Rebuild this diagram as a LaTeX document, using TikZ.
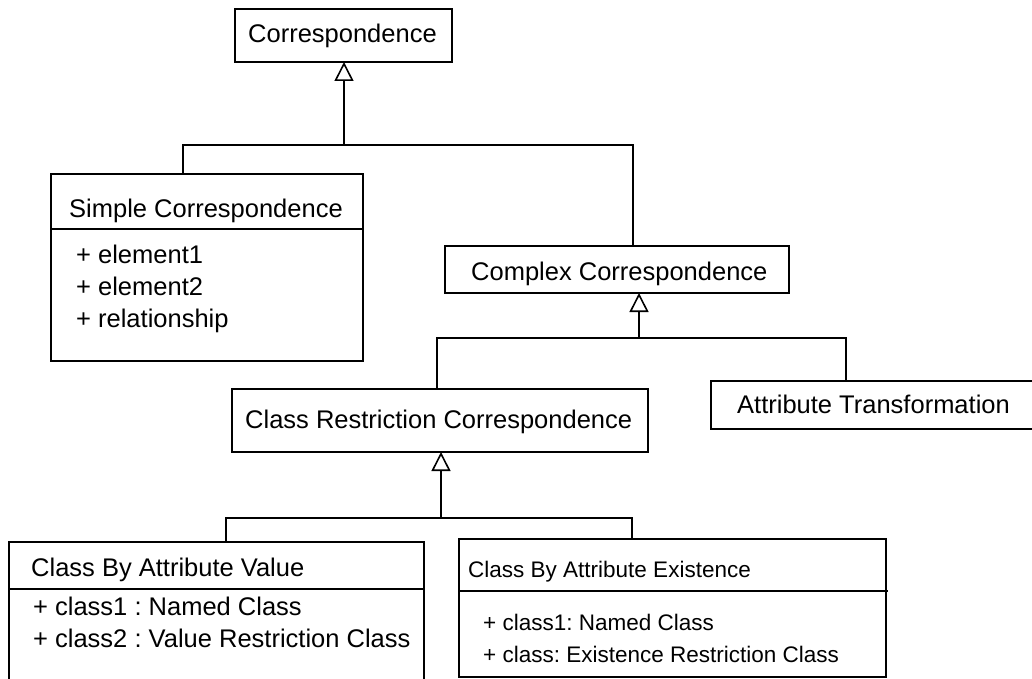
\documentclass[tikz,border=0pt]{standalone}
\usepackage{fontspec}
\setmainfont{Liberation Sans}
\usetikzlibrary{arrows.meta}
\frenchspacing
\begin{document}
\begin{tikzpicture}[x=1pt,y=-1pt,
  box/.style={draw, line width=1.6pt, inner sep=0pt, outer sep=0pt, anchor=north west},
  lbl/.style={anchor=base west, inner sep=0pt, font=\fontsize{25.5}{30}\selectfont},
  lblsmall/.style={anchor=base west, inner sep=0pt, font=\fontsize{22.5}{27}\selectfont},
  conn/.style={line width=1.6pt},
  gen/.style={line width=1.6pt, -{Triangle[open, width=19pt, length=19pt, line width=1.6pt]}}]
\useasboundingbox (0,0) rectangle (1032,679);
% boxes
\node[box, minimum width=217pt, minimum height=53pt] (corr) at (235,9) {};
\node[box, minimum width=312pt, minimum height=187pt] (simple) at (51,174) {};
\node[box, minimum width=344pt, minimum height=47pt] (complex) at (445,246) {};
\node[box, minimum width=416pt, minimum height=63pt] (classres) at (232,389) {};
\node[box, minimum width=334pt, minimum height=48pt] (attrtrans) at (711,381) {};
\node[box, minimum width=415pt, minimum height=148pt] (value) at (9,542) {};
\node[box, minimum width=427pt, minimum height=138pt] (exist) at (459,539) {};
% dividers
\draw[conn] (simple.west |- 0,229) -- (simple.east |- 0,229);
\draw[conn] (value.west |- 0,589) -- (value.east |- 0,589);
\draw[conn] (exist.west |- 0,591) -- ([xshift=2pt]exist.east |- 0,591);
% texts
\node[lbl] (tcorr) at (248,43) {Correspondence};
\node[lbl] (tsimple) at (69,217) {Simple Correspondence};
\node[lbl] (ts1) at (76,263) {+ element1};
\node[lbl] (ts2) at (76,295) {+ element2};
\node[lbl] (ts3) at (76,327) {+ relationship};
\node[lbl] (tcomplex) at (471,280) {Complex Correspondence};
\node[lbl] (tclassres) at (245,428) {Class Restriction Correspondence};
\node[lbl] (tattr) at (737,413) {Attribute Transformation};
\node[lbl] (tvalue) at (31,576) {Class By Attribute Value};
\node[lbl] (tv1) at (33,615) {+ class1 : Named Class};
\node[lbl] (tv2) at (33,647) {+ class2 : Value Restriction Class};
\node[lblsmall] (texist) at (468,577) {Class By Attribute Existence};
\node[lblsmall] (te1) at (483,630) {+ class1: Named Class};
\node[lblsmall] (te2) at (483,662) {+ class: Existence Restriction Class};
% bus 1
\coordinate (b1l) at (183,145);
\coordinate (b1m) at (344,145);
\coordinate (b1r) at (633,145);
\draw[conn] (simple.north -| b1l) -- (b1l) -- (b1r) -- (complex.north -| b1r);
\draw[gen] (b1m) -- (corr.south -| b1m);
% bus 2
\coordinate (b2l) at (437,338);
\coordinate (b2m) at (639,338);
\coordinate (b2r) at (846,338);
\draw[conn] (classres.north -| b2l) -- (b2l) -- (b2r) -- (attrtrans.north -| b2r);
\draw[gen] (b2m) -- (complex.south -| b2m);
% bus 3
\coordinate (b3l) at (226,518);
\coordinate (b3m) at (441,518);
\coordinate (b3r) at (632,518);
\draw[conn] (value.north -| b3l) -- (b3l) -- (b3r) -- (exist.north -| b3r);
\draw[gen] (b3m) -- (classres.south -| b3m);
\end{tikzpicture}
\end{document}
